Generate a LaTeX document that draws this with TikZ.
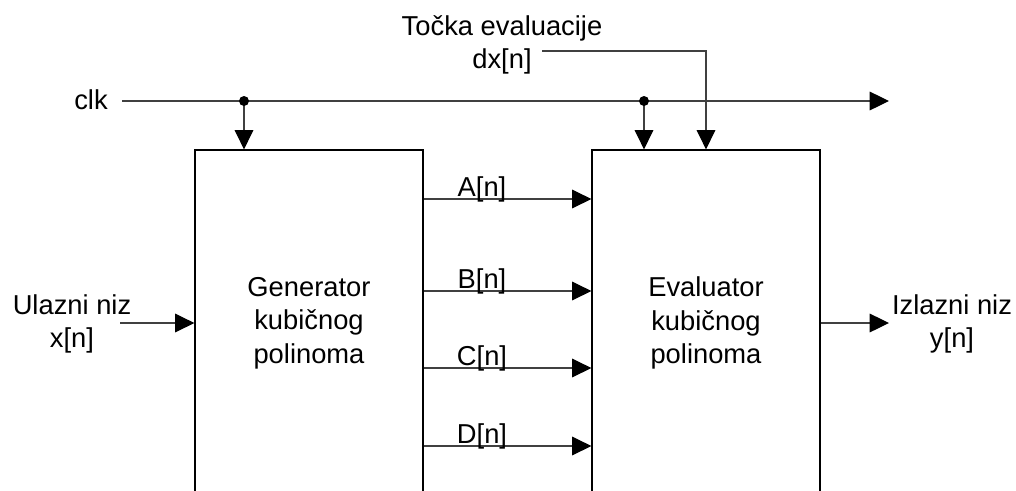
\documentclass[tikz,border=0pt]{standalone}
\usepackage{fontspec}
\setmainfont{Liberation Sans}
\usetikzlibrary{arrows.meta}
\tikzset{
  blok/.style={draw=black, line width=0.9pt, minimum width=171pt, minimum height=259.5pt, inner sep=0pt, align=center},
  sig/.style={draw=black!75, line width=0.9pt, -{Triangle[length=14.5pt,width=14pt,color=black]}},
  lbl/.style={inner sep=0pt, align=center},
}

\begin{document}
\begin{tikzpicture}[x=0.75pt, y=-0.75pt, font=\fontsize{20.5}{25}\selectfont] %Generator i evaluator
        \useasboundingbox (0,0) rectangle (1016,490);
        \clip (0,0) rectangle (1016,490);

        \node[blok] (gen) at (309,323) {Generator\\kubičnog\\polinoma};
        \node[blok] (eval) at (706,323) {Evaluator\\kubičnog\\polinoma};

        \node[lbl, anchor=base] (clk) at (91,109) {clk};
        \coordinate (clkS) at (122,101);
        \coordinate (clkE) at (889,101);
        \coordinate (t1) at (244,101);
        \coordinate (t2) at (644,101);
        \draw[sig] (clkS) -- (clkE);
        \draw[sig] (t1) -- (t1 |- gen.north);
        \draw[sig] (t2) -- (t2 |- eval.north);
        \fill (t1) circle (3.75pt);
        \fill (t2) circle (3.75pt);

        \node[lbl] (tocka) at (502,45) {Točka evaluacije\\dx[n]};
        \coordinate (dxS) at (542,51);
        \draw[sig] (dxS) -| (eval.north);

        \foreach \y/\t in {199/A, 291/B, 368/C, 446/D} {
            \draw[sig] (gen.east |- 0,\y) -- (eval.west |- 0,\y);
            \node[lbl, anchor=base] (lab\t) at (482,\y-3) {\t[n]};
        }

        \node[lbl] (ulaz) at (72,324) {Ulazni niz\\x[n]};
        \coordinate (ulS) at (120,323);
        \draw[sig] (ulS) -- (gen.west);

        \node[lbl] (izlaz) at (952,324) {Izlazni niz\\y[n]};
        \coordinate (izT) at (889,323);
        \draw[sig] (eval.east) -- (izT);
    \end{tikzpicture}
\end{document}
